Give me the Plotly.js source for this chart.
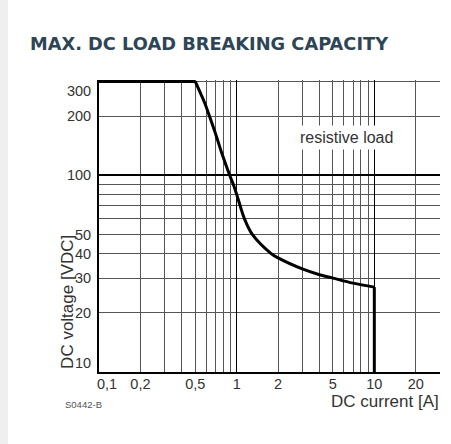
<!DOCTYPE html>
<html>
<head>
<meta charset="utf-8">
<script src="https://cdn.plot.ly/plotly-3.0.1.min.js"></script>
<style>
  html, body { margin: 0; padding: 0; background: #ffffff; }
  #strip { position: absolute; left: 0; top: 0; width: 8px; height: 444px; background: #efefef; }
  #chart { position: absolute; left: 0; top: 0; width: 451px; height: 444px; }
</style>
</head>
<body>
<div id="strip"></div>
<div id="chart"></div>
<script>
// Boundary of the breaking capacity: DC current [A] vs DC voltage [VDC]
// flat part at max voltage
const plateauA = [0.1, 0.5];
const plateauV = [300, 300];
// curved part
const curveA = [0.5, 0.545, 0.586, 0.634, 0.712, 0.787, 0.89, 0.945, 1.0, 1.06, 1.14, 1.30, 1.78, 2.0, 3.0, 4.0, 5.0, 7.0, 10];
const curveV = [300, 262, 233, 200, 158, 127, 100, 90, 80, 70, 60, 50, 40, 38.0, 33.4, 31.2, 30.0, 28.3, 27.0];
// cut-off at max current
const cutoffA = [10, 10];
const cutoffV = [27.0, 10];

// Grid / tick values
const xTickVals = [0.1, 0.2, 0.3, 0.4, 0.5, 0.6, 0.7, 0.8, 0.9, 1, 2, 3, 4, 5, 6, 7, 8, 9, 10, 20, 30];
const xTickText = ['\u00a0\u00a0\u00a0\u00a00,1', '0,2', '', '', '0,5', '', '', '', '', '1', '2', '', '', '5', '', '', '', '', '10', '20', ''];
const yTickVals = [10, 20, 30, 40, 50, 60, 70, 80, 90, 100, 200, 300];
const yTickText = ['10<br>\u00a0', '20', '30', '40', '50', '', '', '', '', '100', '200', '\u00a0<br>300'];
const xDecadeLines = [1, 10];
const yDecadeLines = [100];

const xRange = [Math.log10(0.1), Math.log10(30)];
const yRange = [Math.log10(10), Math.log10(305)];

const tickFont = { family: '"Liberation Sans", Arial, sans-serif', size: 14.5, color: '#333333' };
const labelFont = { family: '"Liberation Sans", Arial, sans-serif', size: 17, color: '#333333' };

function seg(x, y, shape) {
  return {
    x: x, y: y, xaxis: 'x', yaxis: 'y', type: 'scatter', mode: 'lines',
    line: shape === 'spline' ? { color: '#000000', width: 3, shape: 'spline', smoothing: 1 }
                             : { color: '#000000', width: 3, shape: 'linear' },
    hoverinfo: 'skip', showlegend: false
  };
}

const traces = [
  seg(plateauA, plateauV, 'linear'),
  seg(curveA, curveV, 'spline'),
  seg(cutoffA, cutoffV, 'linear'),
  {
    x: [], y: [], xaxis: 'x2', yaxis: 'y2', type: 'scatter', mode: 'lines',
    hoverinfo: 'skip', showlegend: false
  }
];

const layout = {
  width: 451, height: 444,
  margin: { l: 99, r: 10.5, t: 80.3, b: 72, pad: 0 },
  paper_bgcolor: 'rgba(0,0,0,0)',
  plot_bgcolor: 'rgba(0,0,0,0)',
  showlegend: false,
  title: {
    text: 'MAX. DC LOAD BREAKING CAPACITY',
    xref: 'container', yref: 'container',
    x: 30 / 451, xanchor: 'left',
    y: 1 - 44 / 444, yanchor: 'middle',
    font: { family: '"DejaVu Sans", sans-serif', size: 17.8, weight: 'bold', color: '#2e4556' }
  },
  xaxis: {
    type: 'log', range: xRange,
    tickmode: 'array', tickvals: xTickVals, ticktext: xTickText,
    ticks: '', showgrid: true, gridcolor: '#555555', gridwidth: 1,
    showline: true, linecolor: '#000000', linewidth: 2,
    zeroline: false, tickfont: tickFont, ticklabelstandoff: -2
  },
  yaxis: {
    type: 'log', range: yRange,
    tickmode: 'array', tickvals: yTickVals, ticktext: yTickText,
    ticks: '', showgrid: true, gridcolor: '#555555', gridwidth: 1,
    showline: true, linecolor: '#000000', linewidth: 2,
    zeroline: false, tickfont: tickFont, ticklabelstandoff: 3
  },
  xaxis2: {
    type: 'log', range: xRange, overlaying: 'x', anchor: 'y2',
    tickmode: 'array', tickvals: xDecadeLines, showticklabels: false,
    ticks: '', showgrid: true, gridcolor: '#000000', gridwidth: 1.6,
    showline: false, zeroline: false
  },
  yaxis2: {
    type: 'log', range: yRange, overlaying: 'y', anchor: 'x2',
    tickmode: 'array', tickvals: yDecadeLines, showticklabels: false,
    ticks: '', showgrid: true, gridcolor: '#000000', gridwidth: 2,
    showline: false, zeroline: false
  },
  annotations: [
    {
      text: 'resistive load', xref: 'x', yref: 'y', x: Math.log10(6.3), y: Math.log10(155),
      showarrow: false, bgcolor: '#ffffff', borderpad: 3,
      font: { family: '"Liberation Sans", Arial, sans-serif', size: 16, color: '#333333' }
    },
    {
      text: 'DC voltage [VDC]', xref: 'paper', yref: 'paper', x: -0.091, y: 0.24,
      textangle: -90, showarrow: false, xanchor: 'center', yanchor: 'middle',
      font: labelFont
    },
    {
      text: 'DC current [A]', xref: 'paper', yref: 'paper', x: 1.003, y: -0.1,
      showarrow: false, xanchor: 'right', yanchor: 'middle',
      font: labelFont
    },
    {
      text: 'S0442-B', xref: 'paper', yref: 'paper', x: -0.1065, y: -0.113,
      showarrow: false, xanchor: 'left', yanchor: 'middle',
      font: { family: '"Liberation Sans", Arial, sans-serif', size: 9.5, color: '#555555' }
    }
  ]
};

Plotly.newPlot('chart', traces, layout, { staticPlot: true, displayModeBar: false });
</script>
</body>
</html>
